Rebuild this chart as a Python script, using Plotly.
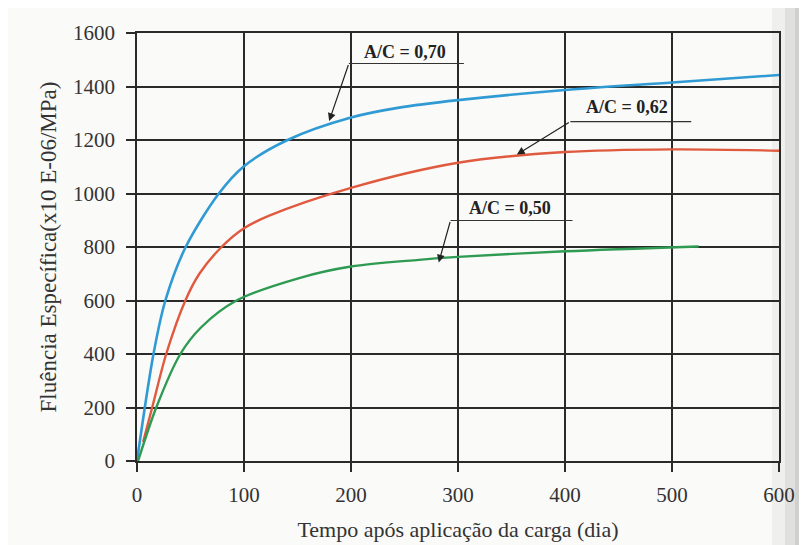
import plotly.graph_objects as go

# A/C = 0,70
days_070 = [0, 15.4, 26.5, 45.5, 76.5, 100, 140.7, 200, 245, 300, 400, 500, 600]
vals_070 = [0, 400, 600, 800, 1000, 1102, 1200, 1284, 1321, 1349, 1387, 1415, 1443]

# A/C = 0,62
days_062 = [5.7, 14.2, 27.3, 45.2, 58.3, 79, 100, 123.6, 200, 300, 400, 500, 600]
vals_062 = [71, 200, 400, 600, 700, 800, 870, 917, 1021, 1115, 1155, 1165, 1160]

# A/C = 0,50
days_050 = [1, 18, 40.5, 60, 93, 151.6, 200, 263.5, 300, 400, 525]
vals_050 = [0, 200, 400, 500, 600, 684, 727, 752, 763, 784, 802]

x_ticks = [0, 100, 200, 300, 400, 500, 600]
y_ticks = [0, 200, 400, 600, 800, 1000, 1200, 1400, 1600]

labels = ["A/C = 0,70", "A/C = 0,62", "A/C = 0,50"]

FONT = "Liberation Serif"
GRID = "#2a2a2a"
BG = "#fafaf8"

fig = go.Figure()
fig.add_trace(go.Scatter(x=days_070, y=vals_070, mode="lines", name=labels[0],
                         line=dict(color="#2f9ad3", width=2.6, shape="spline", smoothing=0.9)))
fig.add_trace(go.Scatter(x=days_062, y=vals_062, mode="lines", name=labels[1],
                         line=dict(color="#df5a3e", width=2.4, shape="spline", smoothing=0.9)))
fig.add_trace(go.Scatter(x=days_050, y=vals_050, mode="lines", name=labels[2],
                         line=dict(color="#2e9a52", width=2.4, shape="spline", smoothing=0.9)))

# scan shadow on the right edge
for x0, x1, col in [(0.989, 1.0093, "#efefed"), (1.0093, 1.0249, "#e0e0de"),
                    (1.0249, 1.0358, "#d0d0ce"), (1.0358, 1.07, "#c2c2c0")]:
    fig.add_shape(type="rect", xref="paper", yref="paper", x0=x0, x1=x1, y0=-0.25, y1=1.1,
                  fillcolor=col, line=dict(width=0), layer="below")

# labels with leader lines and arrows
ann_specs = [
    # text, text x, text y, underline x0, x1, y, arrow tip x, y
    (labels[0], 250.5, 1528, 198, 305.5, 1486, 179.6, 1271),
    (labels[1], 457.9, 1325, 405, 518, 1269, 355, 1146),
    (labels[2], 349, 946, 293, 407, 899, 282, 742),
]
for txt, tx, ty, ux0, ux1, uy, axp, ayp in ann_specs:
    fig.add_annotation(x=tx, y=ty, text="<b>" + txt + "</b>", showarrow=False,
                       font=dict(family=FONT, size=18, color="#222"))
    fig.add_shape(type="line", x0=ux0, x1=ux1, y0=uy, y1=uy,
                  line=dict(color="#333", width=1.2))
    fig.add_annotation(x=axp, y=ayp, ax=ux0, ay=uy, axref="x", ayref="y",
                       xref="x", yref="y", text="", showarrow=True,
                       arrowhead=2, arrowsize=1.3, arrowwidth=1.2, arrowcolor="#222")

fig.update_layout(
    width=807, height=545,
    margin=dict(l=129, r=36, t=25, b=92),
    paper_bgcolor=BG, plot_bgcolor="rgba(0,0,0,0)",
    showlegend=False,
    font=dict(family=FONT, color="#333"),
)
fig.update_xaxes(
    range=[0, 600], tickvals=x_ticks, showgrid=True, gridcolor=GRID, gridwidth=1.6,
    zeroline=False, showline=True, linecolor=GRID, linewidth=1.6, mirror=True,
    ticks="outside", ticklen=9, tickwidth=1.6, tickcolor=GRID,
    tickfont=dict(family=FONT, size=21, color="#333"), ticklabelstandoff=5,
    title=dict(text="Tempo após aplicação da carga (dia)",
               font=dict(family=FONT, size=22, color="#333"), standoff=16),
)
fig.update_yaxes(
    range=[0, 1600], tickvals=y_ticks, showgrid=True, gridcolor=GRID, gridwidth=1.6,
    zeroline=False, showline=True, linecolor=GRID, linewidth=1.6, mirror=True,
    ticks="outside", ticklen=9, tickwidth=1.6, tickcolor=GRID,
    tickfont=dict(family=FONT, size=21, color="#333"), ticklabelstandoff=7,
    title=dict(text="Fluência Específica(x10 E-06/MPa)",
               font=dict(family=FONT, size=23, color="#333"), standoff=10),
)

fig.write_html("out.html")
